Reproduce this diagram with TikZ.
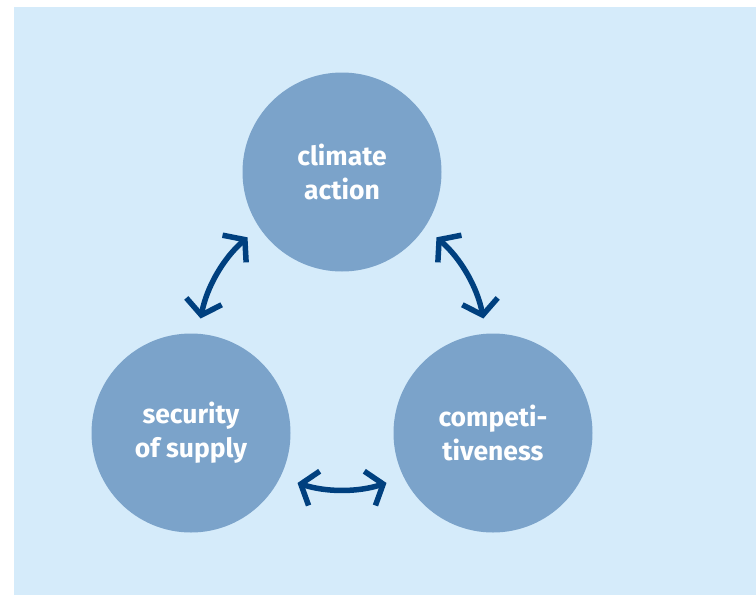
\documentclass[tikz,border=0pt]{standalone}
\usepackage{fontspec}
\setmainfont{Fira Sans}
\usetikzlibrary{arrows.meta}
\definecolor{bgblue}{HTML}{D5EBFA}
\definecolor{discblue}{HTML}{7BA3CA}
\definecolor{arrowblue}{HTML}{00407F}
\begin{document}
\begin{tikzpicture}[x=1pt, y=-1pt,
    goal/.style={circle, fill=discblue, minimum size=199pt, inner sep=0pt,
        text=white, font=\fontsize{26.5}{34}\selectfont\bfseries, align=center},
    link/.style={draw=arrowblue, line width=5.5pt,
        {Straight Barb[length=14pt, width=36pt]}-{Straight Barb[length=14pt, width=36pt]}}]
    \useasboundingbox (0,0) rectangle (756,595);
    \fill[bgblue] (14,7) rectangle (756,595);
    \node[goal] (climate) at (342,172) {climate\\action};
    \node[goal] (security) at (191,433) {security\\of supply};
    \node[goal] (compet) at (493,433) {competi-\\tiveness};
    % arcs round the middle of the three goals (y runs downwards)
    \coordinate (hub) at (342,346);
    \coordinate (leftend) at ([shift={(-131:144)}]hub);
    \coordinate (rightend) at ([shift={(-11:144)}]hub);
    \coordinate (bottomend) at ([shift={(72:144)}]hub);
    \draw[link] (leftend) arc[start angle=-131, end angle=-169, radius=144];
    \draw[link] (rightend) arc[start angle=-11, end angle=-49, radius=144];
    \draw[link] (bottomend) arc[start angle=72, end angle=108, radius=144];
\end{tikzpicture}
\end{document}
